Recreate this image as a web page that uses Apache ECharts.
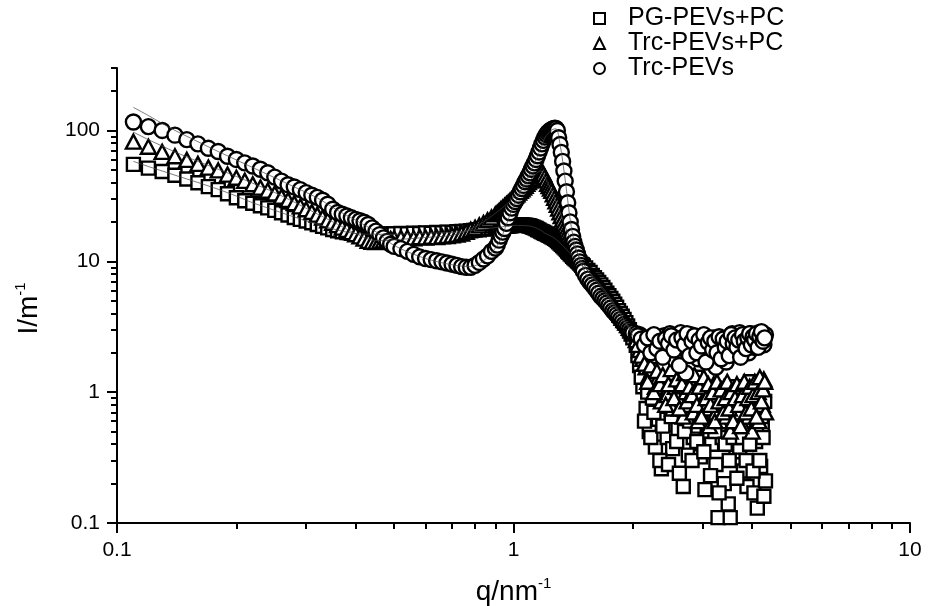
<!DOCTYPE html>
<html>
<head>
<meta charset="utf-8">
<script src="https://cdn.jsdelivr.net/npm/echarts@6/dist/echarts.min.js"></script>
<style>
html, body { margin: 0; padding: 0; background: #fff; }
#chart { width: 928px; height: 606px; }
</style>
</head>
<body>
<div id="chart"></div>
<script>
// shared q grid (nm^-1)
const q = [
    0.11, 0.12, 0.13, 0.14, 0.15, 0.16, 0.17, 0.18, 0.19, 0.20,
    0.21, 0.22, 0.23, 0.24, 0.25, 0.26, 0.27, 0.28, 0.29, 0.30,
    0.31, 0.32, 0.33, 0.34, 0.35, 0.36, 0.37, 0.38, 0.39, 0.40,
    0.41, 0.42, 0.43, 0.44, 0.45, 0.46, 0.47, 0.48, 0.49, 0.50,
    0.52, 0.54, 0.56, 0.58, 0.60, 0.62, 0.64, 0.66, 0.68, 0.70,
    0.72, 0.74, 0.76, 0.78, 0.80, 0.82, 0.84, 0.86, 0.88,
    0.90, 0.91, 0.92, 0.93, 0.94, 0.95, 0.96, 0.97, 0.98, 0.99,
    1.00, 1.01, 1.02, 1.03, 1.04, 1.05, 1.06, 1.07, 1.08, 1.09,
    1.10, 1.11, 1.12, 1.13, 1.14, 1.15, 1.16, 1.17, 1.18, 1.19,
    1.20, 1.21, 1.22, 1.23, 1.24, 1.25, 1.26, 1.27, 1.28, 1.29,
    1.30, 1.31, 1.32, 1.33, 1.34, 1.35, 1.36, 1.37, 1.38, 1.39,
    1.40, 1.41, 1.42, 1.43, 1.44, 1.45, 1.46, 1.47, 1.48, 1.49,
    1.50,
    1.52, 1.54, 1.56, 1.58, 1.60, 1.62, 1.64, 1.66, 1.68, 1.70,
    1.72, 1.74, 1.76, 1.78, 1.80, 1.82, 1.84, 1.86, 1.88, 1.90,
    1.92, 1.94, 1.96, 1.98, 2.00,
    2.04, 2.08, 2.12, 2.16, 2.20, 2.24, 2.28, 2.32, 2.36, 2.40,
    2.44, 2.48, 2.52, 2.56, 2.60, 2.64, 2.68, 2.72, 2.76, 2.80,
    2.84, 2.88, 2.92, 2.96, 3.00, 3.04, 3.08, 3.12, 3.16, 3.20,
    3.24, 3.28, 3.32, 3.36, 3.40, 3.44, 3.48, 3.52, 3.56, 3.60,
    3.64, 3.68, 3.72, 3.76, 3.80, 3.84, 3.88, 3.92, 3.96, 4.00,
    4.04, 4.08, 4.12, 4.16, 4.20, 4.24, 4.28, 4.32
];
const pgPevsPc = [
    55, 51.5, 48.5, 45.5, 42.5, 39.8, 37.2, 35.3, 32.8, 30.6,
    29.0, 27.8, 26.6, 25.6, 24.5, 23.5, 22.6, 21.6, 20.9, 20.3,
    19.7, 19.1, 18.5, 18.0, 17.5, 17.1, 16.8, 16.6, 16.4, 16.3,
    16.2, 16.2, 16.1, 16.1, 16.0, 16.1, 16.0, 16.2, 16.1, 16.2,
    16.3, 16.2, 16.4, 16.3, 16.5, 16.4, 16.6, 16.5, 16.7, 16.6,
    16.8, 16.9, 17.0, 17.1, 17.3, 17.4, 17.6, 17.7, 17.9,
    18.0, 18.1, 18.2, 18.3, 18.4, 18.5, 18.5, 18.6, 18.7, 18.7,
    18.8, 18.8, 18.9, 18.9, 18.9, 19.0, 18.9, 18.9, 18.8, 18.7,
    18.6, 18.4, 18.2, 18.0, 17.8, 17.5, 17.3, 17.0, 16.8, 16.6,
    16.4, 16.2, 16.0, 15.8, 15.6, 15.4, 15.2, 15.0, 14.7, 14.4,
    14.1, 13.8, 13.5, 13.2, 12.9, 12.6, 12.3, 12.0, 11.7, 11.4,
    11.2, 10.9, 10.7, 10.5, 10.3, 10.1, 9.9, 9.7, 9.5, 9.4,
    9.2,
    8.9, 8.5, 8.2, 7.8, 7.5, 7.2, 6.9, 6.6, 6.3, 6.0,
    5.7, 5.45, 5.2, 4.95, 4.7, 4.45, 4.2, 4.0, 3.8, 3.6,
    3.4, 3.2, 3.0, 2.8, 2.6,
    2.3, 1.6, 1.1, 0.75, 0.5, 0.9, 0.38, 0.62, 0.26, 0.85,
    0.45, 1.2, 0.37, 0.7, 0.52, 1.0, 0.19, 0.6, 0.33, 0.8,
    0.45, 1.3, 0.55, 0.32, 0.75, 0.18, 0.5, 0.95, 0.4, 0.62,
    0.28, 0.11, 0.85, 0.45, 0.2, 0.7, 0.14, 0.11, 0.55, 1.1,
    0.35, 0.8, 0.38, 0.6, 0.25, 0.9, 0.19, 0.5, 1.2, 0.7,
    0.17, 0.42, 0.13, 0.8, 0.27, 0.55, 0.16, 0.21
];
const trcPevsPc = [
    82, 75, 68.5, 63.5, 59.5, 55.5, 52, 49.5, 46, 43.5,
    41.2, 38.8, 36.6, 34.7, 33, 31.2, 29.4, 27.8, 26.3, 25,
    23.8, 22.7, 21.6, 20.6, 19.7, 18.9, 18.1, 17.4, 16.7, 16.1,
    15.5, 14.9, 14.3, 14.1, 14.0, 14.2, 14.4, 14.6, 14.8, 15.0,
    15.1, 15.2, 15.0, 15.3, 15.2, 15.4, 15.3, 15.5, 15.6, 15.8,
    16.0, 16.3, 16.8, 17.4, 18.0, 18.8, 19.6, 20.6, 21.6,
    22.8, 23.5, 24.2, 25, 25.7, 26.5, 27.3, 28.1, 29, 29.8,
    30.7, 31.6, 32.5, 33.5, 34.5, 35.5, 36.6, 37.8, 39, 40.3,
    41.6, 43, 44.4, 45.8, 47.2, 48.5, 49.5, 50, 48.5, 46.5,
    44, 41.5, 39, 37.5, 36, 34.5, 32.5, 30.5, 28.7, 27,
    25.3, 23.7, 22.2, 20.8, 19.5, 18.4, 17.4, 16.6, 15.8, 15.1,
    14.4, 13.6, 13.0, 12.5, 12.0, 11.5, 11.0, 10.6, 10.2, 9.8,
    9.4,
    8.9, 8.4, 8.0, 7.6, 7.2, 6.9, 6.6, 6.3, 6.0, 5.7,
    5.45, 5.2, 4.95, 4.7, 4.5, 4.3, 4.1, 3.9, 3.7, 3.55,
    3.4, 3.25, 3.1, 2.95, 2.8,
    2.5, 2.1, 1.8, 1.55, 1.35, 1.5, 1.1, 1.3, 0.85, 1.2,
    0.95, 1.4, 0.75, 1.1, 0.9, 1.3, 0.65, 1.0, 0.8, 1.25,
    0.7, 1.05, 0.6, 0.95, 1.2, 0.75, 1.0, 0.55, 0.9, 1.15,
    0.7, 1.0, 0.6, 0.85, 1.1, 0.65, 0.95, 0.5, 0.8, 1.05,
    0.6, 0.9, 0.7, 1.1, 0.55, 0.85, 1.0, 0.65, 0.9, 0.5,
    1.05, 0.75, 0.95, 0.6, 1.15, 0.8, 1.25, 0.7
];
const trcPevs = [
    116, 107, 100, 92, 85, 79, 73, 69, 63.5, 60,
    56.5, 53.5, 50.5, 47.5, 44, 41, 38.5, 37, 35.3, 33.5,
    32, 30.8, 29.3, 27.3, 25, 23.6, 22.9, 22.2, 21.5, 20.9,
    20.4, 19.9, 19.1, 18.0, 17.0, 16.0, 15.1, 14.2, 13.5, 13.0,
    12.5, 11.9, 11.3, 10.8, 10.5, 10.3, 10.1, 9.9, 9.7, 9.5,
    9.3, 9.1, 9.0, 9.0, 9.3, 9.8, 10.4, 11.0, 11.9,
    12.6, 13.3, 14.5, 15.6, 16.7, 17.8, 19.5, 21.5, 23.5, 25.5,
    27.2, 28.6, 30.2, 32, 34, 36, 38, 40.5, 42.5, 45,
    47.5, 50.5, 53.5, 56.5, 60, 64, 68.5, 73.5, 79, 84,
    89, 93, 96, 98.5, 100.5, 102, 103, 104, 103.5, 100,
    88, 78, 68, 58, 49, 41, 34, 28, 23.5, 20,
    17.5, 15.5, 14, 13, 12.2, 11.4, 10.6, 9.9, 9.3, 8.8,
    8.4,
    7.8, 7.3, 6.9, 6.6, 6.3, 6.0, 5.7, 5.4, 5.2, 5.0,
    4.8, 4.6, 4.4, 4.2, 4.05, 3.9, 3.75, 3.6, 3.45, 3.3,
    3.2, 3.1, 3.0, 2.9, 2.85,
    2.8, 2.75, 2.6, 2.45, 2.2, 2.5, 1.9, 2.6, 2.3, 2.7,
    2.0, 2.8, 2.4, 1.75, 2.65, 2.85, 2.2, 1.4, 2.5, 2.75,
    2.1, 2.6, 1.8, 2.45, 2.7, 2.2, 2.55, 1.9, 2.35, 2.6,
    1.55, 2.3, 2.5, 2.05, 2.4, 1.7, 2.2, 2.6, 2.8, 2.3,
    2.7, 1.95, 2.85, 2.5, 2.1, 2.7, 2.4, 2.0, 2.8, 2.55,
    2.2, 2.7, 2.35, 2.85, 2.5, 2.6, 2.3, 2.75
];
// extra readings in the noisy high-q tail, between the grid points above
const qTail = [
    2.06, 2.10, 2.14, 2.18, 2.22, 2.26, 2.30, 2.34, 2.38, 2.42,
    2.46, 2.50, 2.54, 2.58, 2.62, 2.66, 2.70, 2.74, 2.78, 2.82,
    2.86, 2.90, 2.94, 2.98, 3.02, 3.06, 3.10, 3.14, 3.18, 3.22,
    3.26, 3.30, 3.34, 3.38, 3.42, 3.46, 3.50, 3.54, 3.58, 3.62,
    3.66, 3.70, 3.74, 3.78, 3.82, 3.86, 3.90, 3.94, 3.98, 4.02,
    4.06, 4.10, 4.14, 4.18, 4.22, 4.26, 4.30
];
const pgPevsPcTail = [
    1.9, 1.3, 0.6, 1.0, 0.45, 0.7, 1.15, 0.3, 0.55, 0.95,
    0.28, 0.65, 0.9, 0.42, 0.24, 0.75, 0.5, 1.1, 0.6, 0.3,
    0.85, 0.42, 0.65, 1.0, 0.35, 0.8, 0.55, 0.23, 0.9, 0.5,
    0.75, 0.17, 0.6, 1.0, 0.4, 0.65, 0.3, 0.85, 0.45, 0.7,
    0.22, 0.55, 0.95, 0.45, 0.7, 0.3, 0.85, 0.4, 0.6, 0.25,
    0.75, 0.5, 0.95, 0.3, 0.65, 0.45, 0.85
];
const trcPevsPcTail = [
    2.3, 1.9, 1.65, 1.2, 1.6, 1.0, 1.45, 1.15, 1.35, 0.8,
    1.15, 1.5, 0.9, 1.25, 0.75, 1.15, 1.4, 0.85, 1.1, 0.95,
    1.35, 0.8, 1.1, 0.65, 1.3, 0.9, 1.15, 0.8, 1.0, 0.6,
    1.2, 0.85, 1.05, 0.7, 0.9, 1.2, 0.75, 1.0, 0.6, 0.9,
    1.15, 0.8, 0.55, 0.95, 1.2, 0.7, 0.9, 1.1, 0.75, 0.95,
    1.2, 0.65, 1.0, 1.3, 0.85, 1.05, 1.2
];
const trcPevsTail = [
    2.7, 2.55, 2.3, 2.6, 2.0, 2.75, 2.15, 2.45, 1.85, 2.55,
    2.35, 2.7, 2.1, 2.5, 1.6, 2.6, 2.3, 2.8, 1.9, 2.45,
    2.7, 2.0, 2.5, 2.25, 2.75, 1.7, 2.4, 2.6, 2.1, 2.45,
    2.0, 2.65, 1.8, 2.55, 2.2, 2.45, 1.9, 2.75, 2.35, 2.6,
    2.2, 2.5, 1.85, 2.75, 2.45, 2.15, 2.6, 2.8, 2.3, 2.65,
    2.5, 2.8, 2.2, 2.65, 2.9, 2.45, 2.6
];
// thin model curves
const fitQ = [0.11, 0.12, 0.13, 0.14, 0.16, 0.18, 0.2, 0.22, 0.25, 0.28, 0.32, 0.36, 0.4, 0.45, 0.5, 0.6, 0.7, 0.78, 0.85, 0.92, 1.0, 1.1, 1.17, 1.2, 1.25, 1.28, 1.31, 1.35, 1.4, 1.45, 1.55, 1.7, 1.85, 2.0];
const fitPgPevsPc = [58, 53, 49, 45.5, 40, 35.5, 31.5, 28, 24.5, 21.8, 19.2, 17.3, 16.3, 16.1, 16.1, 16.4, 16.6, 17.2, 17.7, 18.2, 18.8, 18.6, 17.3, 16.4, 15.4, 14.7, 13.8, 12.6, 11.2, 10.1, 8.3, 6.0, 4.1, 2.7];
const fitTrcPevsPc = [97, 85, 76, 68.5, 58, 50.5, 44.5, 39.5, 33.5, 28.3, 23, 19.2, 16.3, 14.4, 14.6, 15.2, 15.8, 17.6, 20.5, 24.5, 30.5, 41.5, 49, 44, 34, 28.5, 23.7, 18.4, 14.4, 11.5, 8.2, 5.8, 4.0, 2.9];
const fitTrcPevs = [150, 130, 113, 100, 82, 69, 59.5, 52, 43.5, 37, 30.5, 24.5, 20.6, 16.8, 13.2, 10.5, 9.4, 9.1, 10.4, 14, 26.5, 47, 72, 88, 101, 103, 79, 42, 18, 11.5, 7.2, 5.1, 3.7, 2.9];

const names = ["PG-PEVs+PC", "Trc-PEVs+PC", "Trc-PEVs"];
const xMajor = [0.1, 1, 10];
const xMinor = [0.2, 0.3, 0.4, 0.5, 0.6, 0.7, 0.8, 0.9, 2, 3, 4, 5, 6, 7, 8, 9];
const yMajor = [0.1, 1, 10, 100];
const yMinor = [0.2, 0.3, 0.4, 0.5, 0.6, 0.7, 0.8, 0.9, 2, 3, 4, 5, 6, 7, 8, 9, 20, 30, 40, 50, 60, 70, 80, 90, 200, 300];

const font = "Liberation Sans, Arial, Helvetica, sans-serif";
const pairs = (xs, ys) => xs.map((x, i) => [x, ys[i]]);

const axisBase = (min, max, pos) => ({
    type: "log",
    logBase: 10,
    min: min,
    max: max,
    position: pos,
    splitLine: { show: false },
    minorTick: { show: false },
    minorSplitLine: { show: false },
});

const majorAxis = (min, max, pos, ticks) => Object.assign(axisBase(min, max, pos), {
    axisLine: { show: true, lineStyle: { color: "#000", width: 2 } },
    axisTick: { show: true, length: 10, customValues: ticks, lineStyle: { color: "#000", width: 2 } },
    axisLabel: { show: true, customValues: ticks, margin: 17, color: "#000", fontSize: 21, fontFamily: font },
});

const minorAxis = (min, max, pos, ticks) => Object.assign(axisBase(min, max, pos), {
    axisLine: { show: false },
    axisTick: { show: true, length: 6, customValues: ticks, lineStyle: { color: "#000", width: 2 } },
    axisLabel: { show: false },
});

const nameRich = {
    a: { fontSize: 28, lineHeight: 32, color: "#000", fontFamily: font },
    b: { fontSize: 15, lineHeight: 32, verticalAlign: "top", color: "#000", fontFamily: font },
};

const xMain = majorAxis(0.1, 10, "bottom", xMajor);
xMain.name = "{a|q/nm}{b|-1}";
xMain.nameLocation = "middle";
xMain.nameGap = 53;
xMain.nameTextStyle = { rich: nameRich };

const yMain = majorAxis(0.1, 300, "left", yMajor);
yMain.name = "{a|I/m}{b|-1}";
yMain.nameLocation = "middle";
yMain.nameRotate = 90;
yMain.nameGap = 72;
yMain.nameTextStyle = { rich: nameRich, padding: [0, 26, 0, 0] };

const dots = (name, symbol, size, data) => ({
    name: name,
    type: "scatter",
    symbol: symbol,
    symbolSize: size,
    data: data,
    z: 2,
    silent: true,
    itemStyle: { color: "#fff", borderColor: "#000", borderWidth: 2.4, opacity: 1 },
    emphasis: { disabled: true },
});

const fit = data => ({
    type: "line",
    data: data,
    showSymbol: false,
    smooth: 0.3,
    z: 5,
    silent: true,
    lineStyle: { color: "#444", width: 0.7 },
    emphasis: { disabled: true },
});

const chart = echarts.init(document.getElementById("chart"), null, { renderer: "canvas" });
chart.setOption({
    animation: false,
    backgroundColor: "#fff",
    textStyle: { fontFamily: font },
    grid: { left: 117, right: 18, top: 68, bottom: 83, containLabel: false, outerBoundsMode: "none" },
    legend: {
        data: names,
        orient: "vertical",
        left: 588,
        top: 1,
        itemWidth: 11,
        itemHeight: 11,
        itemGap: 0,
        selectedMode: false,
        itemStyle: { borderWidth: 2 },
        textStyle: { fontSize: 25, color: "#000", fontFamily: font, padding: [0, 0, 0, 18] },
    },
    xAxis: [xMain, minorAxis(0.1, 10, "bottom", xMinor)],
    yAxis: [yMain, minorAxis(0.1, 300, "left", yMinor)],
    series: [
        dots(names[0], "rect", 13, pairs(q, pgPevsPc).concat(pairs(qTail, pgPevsPcTail))),
        dots(names[1], "triangle", [15, 14], pairs(q, trcPevsPc).concat(pairs(qTail, trcPevsPcTail))),
        dots(names[2], "circle", 15, pairs(q, trcPevs).concat(pairs(qTail, trcPevsTail))),
        fit(pairs(fitQ, fitPgPevsPc)),
        fit(pairs(fitQ, fitTrcPevsPc)),
        fit(pairs(fitQ, fitTrcPevs)),
    ],
});
</script>
</body>
</html>
